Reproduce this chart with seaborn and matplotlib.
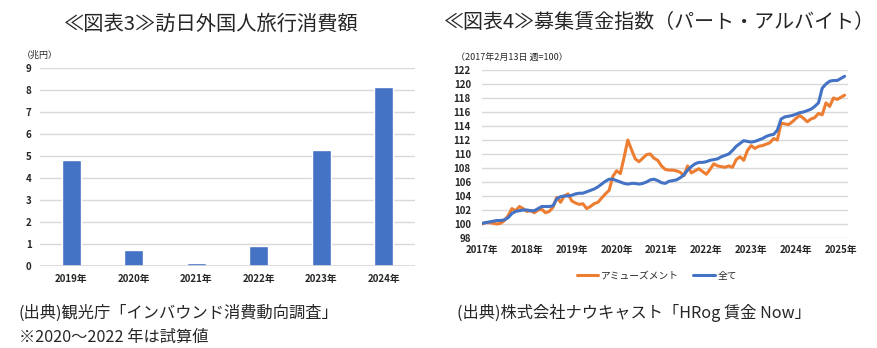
import matplotlib
matplotlib.use("Agg")
import matplotlib.pyplot as plt
import seaborn as sns
import pandas as pd

sns.set_theme(style="white")
plt.rcParams["font.family"] = ["Noto Sans CJK JP", "DejaVu Sans"]

# ---- 訪日外国人旅行消費額（兆円）
years = ["2019年", "2020年", "2021年", "2022年", "2023年", "2024年"]
spending = [4.81, 0.74, 0.12, 0.89, 5.29, 8.14]

# ---- 募集賃金指数（月次, 2017年2月〜2025年3月）
amusement = [
    100.0, 100.2, 100.2, 100.1, 100.0, 100.1, 100.5, 101.2, 102.2, 101.9,
    102.5, 102.2, 101.8, 101.9, 101.6, 102.0, 102.1, 101.6, 101.8, 102.4,
    103.8, 103.1, 104.0, 104.3, 103.3, 103.0, 102.8, 102.9, 102.2, 102.5,
    102.9, 103.1, 103.7, 104.3, 104.8, 106.8, 107.6, 107.2, 109.5, 112.0,
    110.6, 109.3, 108.9, 109.4, 109.9, 110.0, 109.4, 109.1, 108.3, 107.8,
    107.7, 107.7, 107.6, 107.4, 106.9, 108.3, 107.3, 107.6, 107.9, 107.5,
    107.1, 107.8, 108.6, 108.3, 108.2, 108.1, 108.3, 108.1, 109.2, 109.6,
    109.1, 110.5, 111.2, 110.8, 111.1, 111.2, 111.4, 111.6, 112.2, 112.0,
    114.4, 114.3, 114.2, 114.6, 115.1, 115.5, 115.1, 114.6, 115.0, 115.2,
    115.8, 115.6, 117.3, 116.8, 118.0, 117.8, 118.1, 118.4,
]
all_jobs = [
    100.1, 100.2, 100.3, 100.4, 100.5, 100.5, 100.6, 100.9, 101.5, 101.8,
    101.9, 102.0, 102.0, 101.9, 101.9, 102.2, 102.5, 102.5, 102.5, 102.6,
    103.6, 103.9, 104.0, 104.0, 104.1, 104.3, 104.4, 104.4, 104.6, 104.8,
    105.0, 105.3, 105.7, 106.1, 106.4, 106.4, 106.2, 106.0, 105.8, 105.7,
    105.8, 105.8, 105.7, 105.8, 106.0, 106.3, 106.4, 106.2, 105.9, 105.8,
    106.1, 106.2, 106.3, 106.6, 107.0, 107.7, 108.2, 108.6, 108.8, 108.8,
    108.9, 109.1, 109.2, 109.3, 109.6, 109.8, 110.0, 110.5, 111.1, 111.5,
    111.9, 111.8, 111.7, 111.8, 112.0, 112.2, 112.5, 112.7, 112.8, 113.4,
    115.0, 115.3, 115.4, 115.5, 115.7, 115.9, 116.0, 116.2, 116.4, 116.8,
    117.3, 119.4, 120.0, 120.4, 120.5, 120.5, 120.8, 121.1,
]
series_names = ["アミューズメント", "全て"]
year_labels = ["2017年", "2018年", "2019年", "2020年", "2021年",
               "2022年", "2023年", "2024年", "2025年"]

ORANGE = "#ED7D31"
BLUE = "#4472C4"
GRID = "#d9d9d9"
TICK_COLOR = "#262626"

W, H = 877, 348
fig = plt.figure(figsize=(W / 100, H / 100), dpi=100)


def px_axes(x0, y0, x1, y1):
    """Axes placed by pixel box (left, top, right, bottom)."""
    return fig.add_axes([x0 / W, 1 - y1 / H, (x1 - x0) / W, (y1 - y0) / H])


def style_ticks(ax, ypad, xpad):
    ax.tick_params(axis="y", length=0, pad=ypad, labelsize=7, labelcolor=TICK_COLOR)
    ax.tick_params(axis="x", length=0, pad=xpad, labelsize=7, labelcolor=TICK_COLOR)
    for lab in ax.get_xticklabels() + ax.get_yticklabels():
        lab.set_fontweight("bold")


# ================= 図表3: bar chart =================
ax1 = px_axes(40, 68, 415, 266)
bar_df = pd.DataFrame({"year": years, "value": spending})
sns.barplot(data=bar_df, x="year", y="value", color=BLUE, width=0.31,
            saturation=1, ax=ax1)
ax1.set_ylim(0, 9)
ax1.set_yticks(range(0, 10))
ax1.set_xlim(-0.5, len(years) - 0.5)
ax1.set_xlabel("")
ax1.set_ylabel("")
ax1.grid(axis="y", color=GRID, linewidth=1)
ax1.set_axisbelow(True)
for s in ax1.spines.values():
    s.set_visible(False)
style_ticks(ax1, 6, 6)
ax1.axhline(0, color=GRID, linewidth=1.2)

fig.text(211 / W, 1 - 24 / H, "≪図表3≫訪日外国人旅行消費額",
         ha="center", va="center", fontsize=14.6)
fig.text(22 / W, 1 - 55 / H, "（兆円）", ha="left", va="center",
         fontsize=6.5, color=TICK_COLOR)

# ================= 図表4: line chart =================
ax2 = px_axes(482, 70, 848, 238)
n = len(amusement)
line_df = pd.DataFrame({
    "month": list(range(n)) * 2,
    "value": amusement + all_jobs,
    "series": [series_names[0]] * n + [series_names[1]] * n,
})
sns.lineplot(data=line_df, x="month", y="value", hue="series",
             hue_order=series_names, palette=[ORANGE, BLUE],
             linewidth=2.2, ax=ax2)
ax2.set_ylim(98, 122)
ax2.set_yticks(range(98, 123, 2))
ax2.set_xlim(0, 97.9)
ax2.set_xticks(range(0, 97, 12))
ax2.set_xticklabels(year_labels)
ax2.set_xlabel("")
ax2.set_ylabel("")
ax2.grid(axis="y", color=GRID, linewidth=1)
ax2.set_axisbelow(True)
for s in ax2.spines.values():
    s.set_visible(False)
style_ticks(ax2, 8, 5)
sns.move_legend(ax2, "center", bbox_to_anchor=(0.478, -0.225), ncol=2,
                frameon=False, title=None, fontsize=7, handlelength=2.2,
                columnspacing=1.5, handletextpad=0.3)

fig.text(659 / W, 1 - 22 / H, "≪図表4≫募集賃金指数（パート・アルバイト）",
         ha="center", va="center", fontsize=14.4)
fig.text(456 / W, 1 - 57 / H, "（2017年2月13日 週=100）", ha="left",
         va="center", fontsize=6.5, color=TICK_COLOR)

# ---- sources / notes
fig.text(19 / W, 1 - 313 / H, "(出典)観光庁「インバウンド消費動向調査」",
         ha="left", va="center", fontsize=11.7)
fig.text(19 / W, 1 - 337 / H, "※2020～2022 年は試算値",
         ha="left", va="center", fontsize=11.7)
fig.text(457 / W, 1 - 313 / H, "(出典)株式会社ナウキャスト「HRog 賃金 Now」",
         ha="left", va="center", fontsize=11.7)

fig.savefig("out.png", dpi=100, facecolor="white")
